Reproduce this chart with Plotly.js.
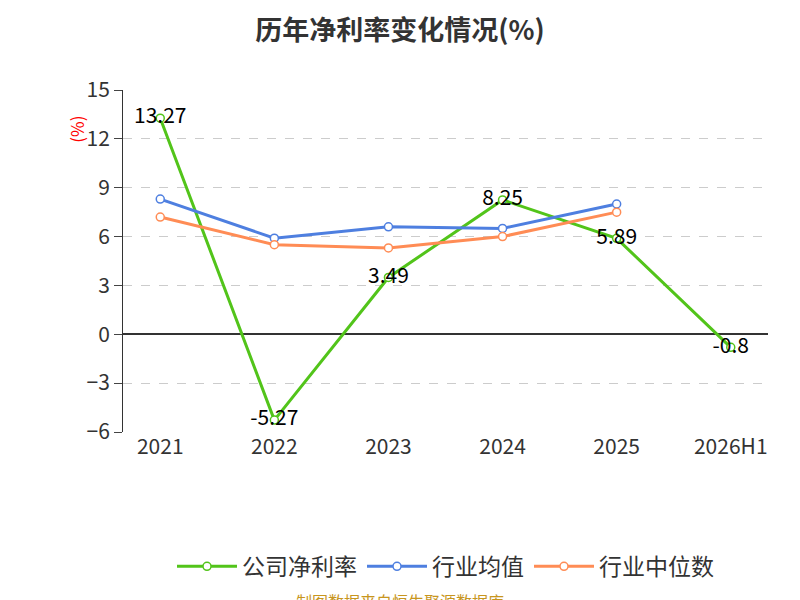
<!DOCTYPE html>
<html><head><meta charset="utf-8">
<script src="https://cdn.plot.ly/plotly-3.0.1.min.js"></script>
<style>body{margin:0}#c{width:800px;height:600px}</style>
</head><body><div id="c"></div>
<script>
const years = ['2021', '2022', '2023', '2024', '2025', '2026H1'];
const company = [13.27, -5.27, 3.49, 8.25, 5.89, -0.8];
const industryAvg = [8.3, 5.9, 6.6, 6.5, 8.0, null];
const industryMedian = [7.2, 5.5, 5.3, 6.0, 7.5, null];

const font = "'Noto Sans CJK SC', 'Noto Sans', sans-serif";
const mk = (color) => ({ size: 8, color: '#fff', line: { color: color, width: 1.5 } });

const traces = [
  { x: years, y: company, name: '公司净利率', mode: 'lines+markers+text',
    line: { color: '#52c41a', width: 3 }, marker: mk('#52c41a'),
    text: company.map(String), textposition: 'middle center',
    textfont: { size: 21, color: '#000', family: font } },
  { x: years, y: industryAvg, name: '行业均值', mode: 'lines+markers',
    line: { color: '#4e7fe0', width: 3 }, marker: mk('#4e7fe0') },
  { x: years, y: industryMedian, name: '行业中位数', mode: 'lines+markers',
    line: { color: '#ff8c55', width: 3 }, marker: mk('#ff8c55') },
];

Plotly.newPlot('c', traces, {
  width: 800, height: 600,
  margin: { l: 123, r: 32, t: 90, b: 160 },
  font: { family: font, color: '#333' },
  title: { text: '历年净利率变化情况(%)', x: 0.5, y: 0.965, font: { size: 27, color: '#333', weight: 'bold' } },
  xaxis: { type: 'category', showgrid: false, tickfont: { size: 21 }, ticks: '', showline: false },
  yaxis: { range: [-6, 15], tickvals: [-6, -3, 0, 3, 6, 9, 12, 15], showgrid: true,
    gridcolor: '#ccc', griddash: 'dash', zeroline: true, zerolinecolor: '#333', zerolinewidth: 1.5,
    showline: true, linecolor: '#333', ticks: 'outside', ticklen: 8, tickfont: { size: 21 } },
  showlegend: true,
  legend: { orientation: 'h', x: 0.5, xanchor: 'center', y: -0.33, font: { size: 23 }, itemwidth: 60 },
  annotations: [
    { text: '(%)', textangle: -90, showarrow: false, xref: 'paper', yref: 'paper',
      x: -0.095, y: 0.93, font: { size: 17, color: 'red' } },
    { text: '制图数据来自恒生聚源数据库', showarrow: false, xref: 'paper', yref: 'paper',
      x: 0.43, y: -0.535, font: { size: 16, color: '#c8961e' } }],
}, { displayModeBar: false });
</script></body></html>
